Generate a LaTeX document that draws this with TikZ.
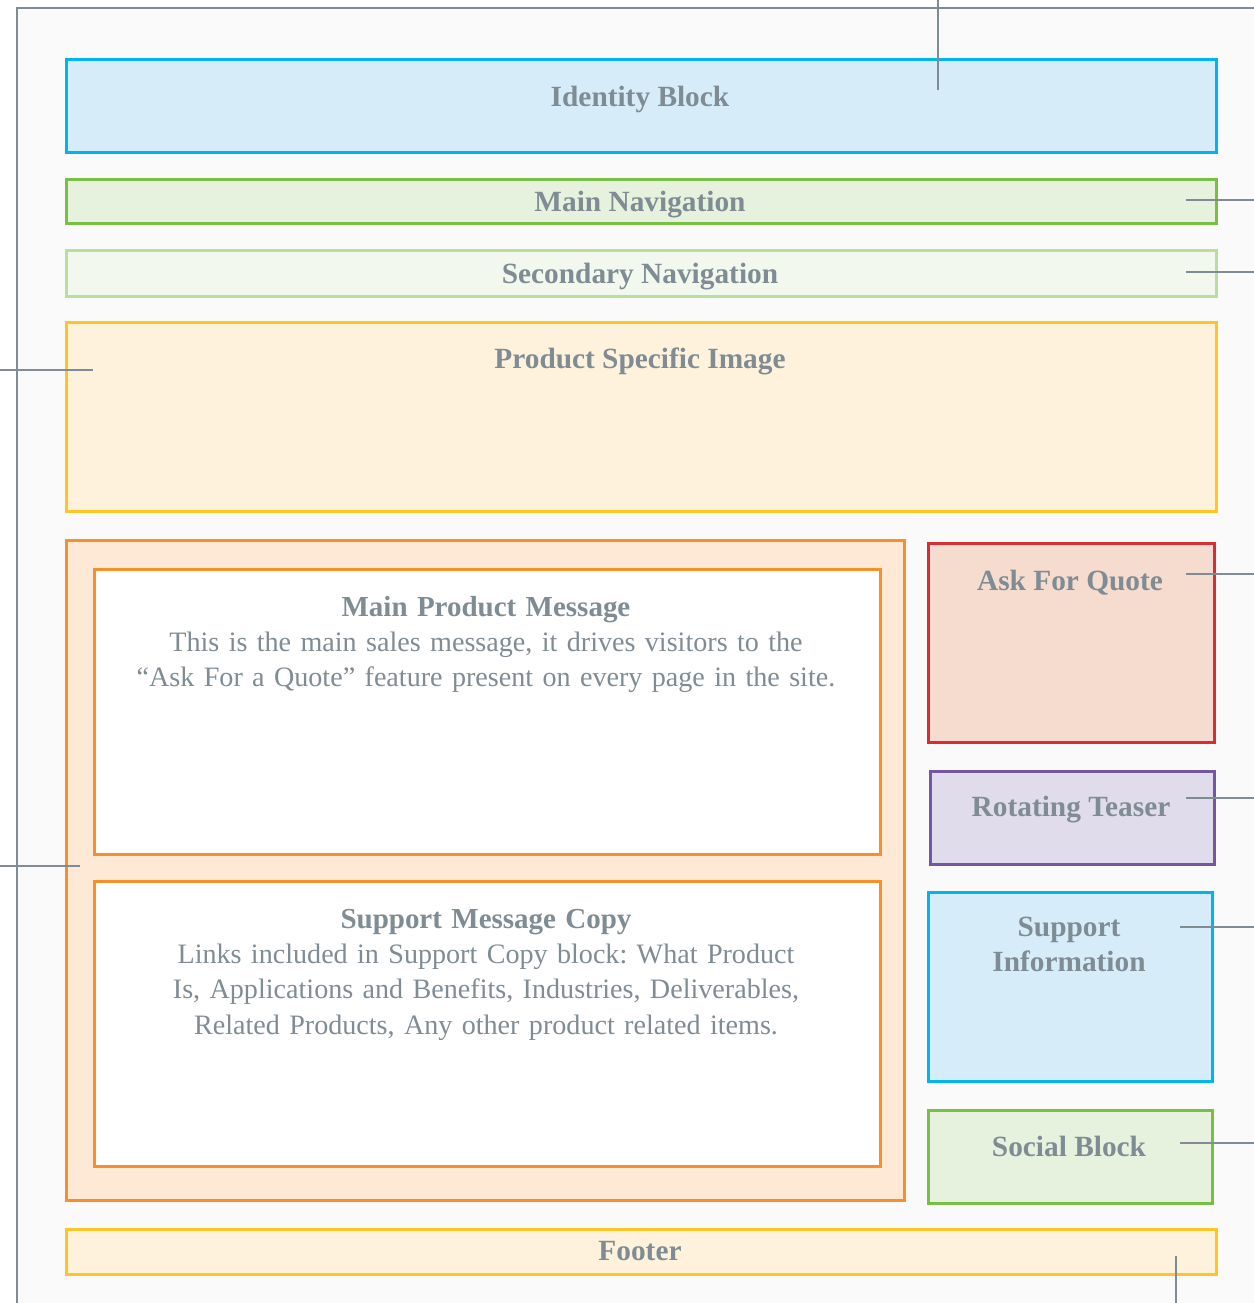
\documentclass[tikz,border=0pt]{standalone}
\usepackage{fontspec}
\setmainfont{Liberation Serif}
\usepackage{tikz}
\usetikzlibrary{positioning}

\definecolor{inkgray}{HTML}{7F8C94}
\definecolor{pagebg}{HTML}{FAFAFA}
\definecolor{skyline}{HTML}{00B5EF}
\definecolor{skyfill}{HTML}{D6EDF9}
\definecolor{leafline}{HTML}{77C043}
\definecolor{leaffill}{HTML}{E6F1DE}
\definecolor{paleline}{HTML}{B9DFA0}
\definecolor{palefill}{HTML}{F2F8EE}
\definecolor{sunline}{HTML}{FFC425}
\definecolor{sunfill}{HTML}{FEF2DC}
\definecolor{rustline}{HTML}{F7902A}
\definecolor{rustfill}{HTML}{FEE9D7}
\definecolor{redline}{HTML}{D92D36}
\definecolor{redfill}{HTML}{F6DBCF}
\definecolor{plumline}{HTML}{7556A3}
\definecolor{plumfill}{HTML}{E0DCEB}

\tikzset{
  zone/.style={draw, line width=1.6pt, inner sep=0pt, anchor=north west},
  blocktitle/.style={text=inkgray, font=\bfseries, inner sep=0pt, anchor=base},
  blockcopy/.style={text=inkgray, inner sep=0pt, anchor=base, text width=15cm, align=center,
    font=\fontsize{16}{20.2}\selectfont},
  leadline/.style={draw=inkgray, line width=1.6pt}
}

\begin{document}
\begin{tikzpicture}[x=0.02cm, y=-0.02cm]
\fontsize{16.7}{20.2}\selectfont\frenchspacing
\useasboundingbox (0,0) rectangle (1254,1303);
\fill[pagebg] (17,8) rectangle (1254,1303);
\draw[leadline] (1254,8) -- (17,8) -- (17,1303);

% page blocks
\node[zone, draw=skyline, fill=skyfill, minimum width=23cm, minimum height=1.86cm] (ident) at (65,58) {};
\node[zone, draw=leafline, fill=leaffill, minimum width=23cm, minimum height=0.88cm] (mainnav) at (65,178) {};
\node[zone, draw=paleline, fill=palefill, minimum width=23cm, minimum height=0.92cm] (subnav) at (65,249) {};
\node[zone, draw=sunline, fill=sunfill, minimum width=23cm, minimum height=3.78cm] (prodimg) at (65,321) {};
\node[zone, draw=rustline, fill=rustfill, minimum width=16.76cm, minimum height=13.2cm] (content) at (65,539) {};
\node[zone, draw=rustline, fill=white, minimum width=15.72cm, minimum height=5.7cm] (mainmsg) at (93,568) {};
\node[zone, draw=rustline, fill=white, minimum width=15.72cm, minimum height=5.7cm] (supmsg) at (93,880) {};
\node[zone, draw=redline, fill=redfill, minimum width=5.72cm, minimum height=3.98cm] (quote) at (927,542) {};
\node[zone, draw=plumline, fill=plumfill, minimum width=5.68cm, minimum height=1.86cm] (teaser) at (929,770) {};
\node[zone, draw=skyline, fill=skyfill, minimum width=5.68cm, minimum height=3.78cm] (supinfo) at (927,891) {};
\node[zone, draw=leafline, fill=leaffill, minimum width=5.68cm, minimum height=1.86cm] (social) at (927,1109) {};
\node[zone, draw=sunline, fill=sunfill, minimum width=23cm, minimum height=0.9cm] (footer) at (65,1228) {};

% labels
\node[blocktitle] (identtxt) at (640,106) {Identity Block};
\node[blocktitle] (mainnavtxt) at (640,211) {Main Navigation};
\node[blocktitle] (subnavtxt) at (640,283) {Secondary Navigation};
\node[blocktitle] (prodimgtxt) at (640,368) {Product Specific Image};
\node[blockcopy] (mainmsgtxt) at (486,616) {\textbf{\fontsize{16.5}{20.2}\selectfont Main Product Message}\\
  This is the main sales message, it drives visitors to the\\
  ``Ask For a Quote'' feature present on every page in the site.};
\node[blockcopy] (supmsgtxt) at (486,928) {\textbf{\fontsize{16.5}{20.2}\selectfont Support Message Copy}\\
  Links included in Support Copy block: What Product\\
  Is, Applications and Benefits, Industries, Deliverables,\\
  Related Products, Any other product related items.};
\node[blocktitle] (quotetxt) at (1070,590) {Ask For Quote};
\node[blocktitle] (teasertxt) at (1071,816) {Rotating Teaser};
\node[blocktitle, text width=5cm, align=center] (supinfotxt) at (1069,936) {Support\\Information};
\node[blocktitle] (socialtxt) at (1069,1156) {Social Block};
\node[blocktitle] (footertxt) at (640,1260) {Footer};

% leader lines
\coordinate (identout) at (938,0);
\coordinate (identpin) at (938,90);
\coordinate (mainnavpin) at (1186,200);
\coordinate (mainnavout) at (1254,200);
\coordinate (subnavpin) at (1186,272);
\coordinate (subnavout) at (1254,272);
\coordinate (prodimgout) at (0,370);
\coordinate (prodimgpin) at (93,370);
\coordinate (contentout) at (0,866);
\coordinate (contentpin) at (80,866);
\coordinate (quotepin) at (1186,574);
\coordinate (quoteout) at (1254,574);
\coordinate (teaserpin) at (1186,798);
\coordinate (teaserout) at (1254,798);
\coordinate (supinfopin) at (1180,927);
\coordinate (supinfoout) at (1254,927);
\coordinate (socialpin) at (1180,1143);
\coordinate (socialout) at (1254,1143);
\coordinate (footerpin) at (1176,1256);
\coordinate (footerout) at (1176,1303);

\draw[leadline] (identout) -- (identpin);
\draw[leadline] (mainnavpin) -- (mainnavout);
\draw[leadline] (subnavpin) -- (subnavout);
\draw[leadline] (prodimgout) -- (prodimgpin);
\draw[leadline] (contentout) -- (contentpin);
\draw[leadline] (quotepin) -- (quoteout);
\draw[leadline] (teaserpin) -- (teaserout);
\draw[leadline] (supinfopin) -- (supinfoout);
\draw[leadline] (socialpin) -- (socialout);
\draw[leadline] (footerpin) -- (footerout);
\end{tikzpicture}
\end{document}
